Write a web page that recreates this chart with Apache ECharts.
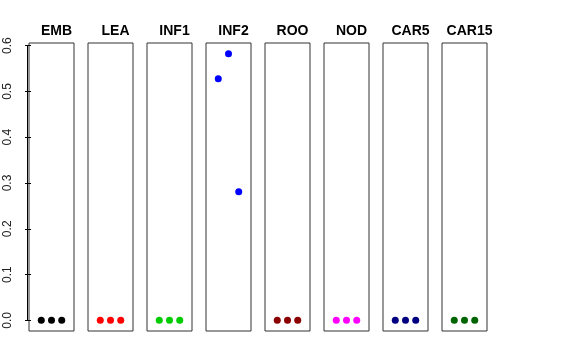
<!DOCTYPE html>
<html><head><meta charset="utf-8">
<script src="https://cdn.jsdelivr.net/npm/echarts@6/dist/echarts.min.js"></script>
<style>html,body{margin:0;padding:0;background:#fff}#c{width:576px;height:360px}</style>
</head><body><div id="c"></div>
<script>
var categories = ["EMB","LEA","INF1","INF2","ROO","NOD","CAR5","CAR15"];
var colors = ["#000000","#FF0000","#00CD00","#0000FF","#8B0000","#FF00FF","#000080","#006400"];
var xs = [1,2,3];
var values = {
  EMB:[0,0,0], LEA:[0,0,0], INF1:[0,0,0],
  INF2:[0.528,0.5826,0.281],
  ROO:[0,0,0], NOD:[0,0,0], CAR5:[0,0,0], CAR15:[0,0,0]
};
var yTicks = ["0.0","0.1","0.2","0.3","0.4","0.5","0.6"];
var tickVals = [0,0.1,0.2,0.3,0.4,0.5,0.6];

var yMin = -0.0233, yMax = 0.6059;
var grids=[], xAxes=[], yAxes=[], series=[], titles=[];
categories.forEach(function(c,i){
  var left = 29 + i*59;
  grids.push({left:left, top:43, width:45, height:288, show:true, borderColor:'#333', borderWidth:1, backgroundColor:'transparent'});
  xAxes.push({gridIndex:i, type:'value', min:-0.2, max:4.2, show:false});
  yAxes.push({gridIndex:i, type:'value', min:yMin, max:yMax, interval:0.1,
    show: i===0, offset:2, splitLine:{show:false},
    axisLine:{show:false},
    axisTick:{show:i===0, inside:false, length:6, lineStyle:{color:'#000'}, customValues:tickVals},
    axisLabel:{show:i===0, rotate:90, margin:13, fontSize:12, color:'#222', fontFamily:'Liberation Sans, Arial, sans-serif',
      customValues:tickVals,
      formatter:function(v){ return yTicks[Math.round(v*10)]; }}
  });
  series.push({type:'scatter', xAxisIndex:i, yAxisIndex:i, symbolSize:7,
    itemStyle:{color:colors[i], opacity:1},
    data: xs.map(function(x,k){ return [x, values[c][k]]; })});
  titles.push({text:c, left:left+22.5, top:19, textAlign:'center',
    textStyle:{fontSize:14, fontWeight:'bold', color:'#000', fontFamily:'Liberation Sans, Arial, sans-serif'}});
});
var chart = echarts.init(document.getElementById('c'), null, {renderer:'canvas'});
chart.setOption({animation:false, title:titles, grid:grids, xAxis:xAxes, yAxis:yAxes, series:series});
var p0 = chart.convertToPixel({gridIndex:0}, [-0.2, 0]);
var p6 = chart.convertToPixel({gridIndex:0}, [-0.2, 0.6]);
var lx = Math.round(p0[0]) - 2 + 0.5;
chart.setOption({graphic:[{type:'line', shape:{x1:lx, y1:p0[1], x2:lx, y2:p6[1]}, style:{stroke:'#000', lineWidth:1}}]});
</script></body></html>
